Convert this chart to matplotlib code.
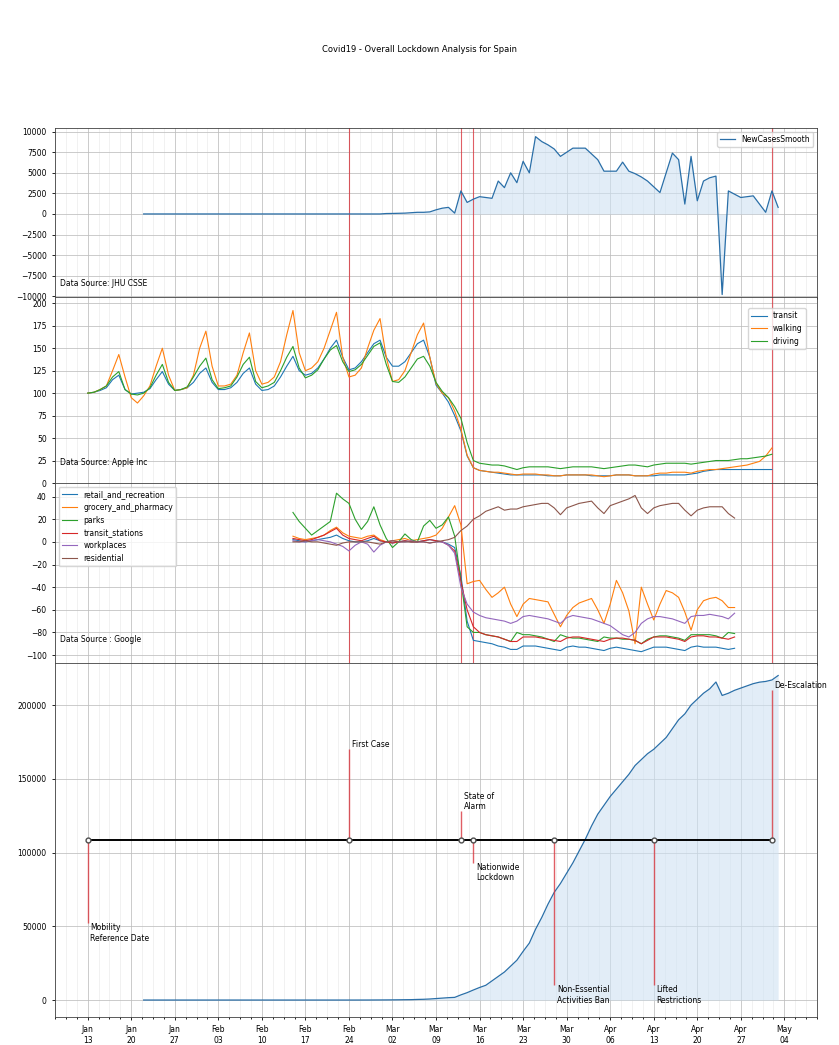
import matplotlib
matplotlib.use("Agg")
import matplotlib.pyplot as plt
import matplotlib.dates as mdates
from matplotlib.ticker import MultipleLocator, AutoMinorLocator
import pandas as pd
import numpy as np

# ---------------- data ----------------
title = "Covid19 - Overall Lockdown Analysis for Spain"

# JHU CSSE - smoothed daily new cases (from 2020-01-22)
jhu_start = "2020-01-22"
new_cases = [0] * 39 + [
    50, 60, 80, 100, 150, 200, 200, 250, 500, 700,
    800, 100, 2800, 1400, 1800, 2100, 2000, 1900, 4000, 3200,
    5000, 3800, 6400, 5000, 9400, 8800, 8400, 7900, 7000, 7500,
    8000, 8000, 8000, 7300, 6600, 5200, 5200, 5200, 6300, 5200,
    4900, 4500, 4000, 3300, 2600, 5000, 7400, 6600, 1200, 7000,
    1600, 4000, 4400, 4600, -9800, 2800, 2400, 2000, 2100, 2200,
    1200, 200, 2800, 800]

# JHU CSSE - cumulative confirmed cases (from 2020-01-22)
confirmed = [0] * 35 + [
    10, 20, 40, 60, 85, 120, 165, 220, 260, 400,
    500, 700, 1000, 1300, 1600, 1800, 3500, 5000, 6800, 8500,
    10000, 13000, 16000, 19000, 23000, 27000, 33000, 38600, 48000, 56000,
    65000, 73000, 79000, 86000, 93000, 101000, 109000, 118000, 126000, 132000,
    138000, 143000, 148000, 153000, 159000, 163000, 167000, 170000, 174000, 178000,
    184000, 190000, 194000, 200000, 204000, 208000, 211000, 215600, 206500, 208000,
    210000, 211500, 213000, 214500, 215500, 216000, 217000, 220000]

# Apple mobility (from 2020-01-13)
apple_start = "2020-01-13"
transit = [100, 101, 103, 106, 115, 120, 104,
           99, 100, 101, 105, 115, 124, 110,
           103, 104, 106, 112, 122, 128, 112,
           104, 104, 106, 112, 122, 128, 110,
           103, 104, 108, 118, 130, 141, 125,
           120, 122, 128, 138, 150, 159, 140,
           126, 128, 135, 145, 155, 159, 140,
           130, 130, 135, 145, 155, 159, 140,
           109, 100, 90, 75, 58, 30, 17,
           14, 13, 12, 11, 10, 9, 9, 9,
           9, 9, 9, 8, 8, 8, 9, 9,
           9, 9, 8, 8, 8, 8, 9, 9,
           9, 8, 8, 8, 8, 9, 9, 9,
           9, 9, 10, 11, 13, 14, 15, 15,
           15, 15, 15, 15, 15, 15, 15, 15]
walking = [100, 101, 104, 108, 125, 143, 118,
           95, 89, 97, 108, 130, 150, 120,
           103, 104, 106, 120, 150, 169, 130,
           108, 108, 110, 120, 145, 167, 125,
           110, 112, 118, 135, 165, 192, 145,
           125, 128, 135, 150, 170, 190, 140,
           118, 120, 128, 150, 170, 183, 140,
           113, 115, 125, 145, 165, 178, 140,
           111, 100, 95, 80, 60, 31, 17,
           14, 13, 12, 12, 11, 10, 9, 10,
           10, 10, 9, 9, 8, 8, 9, 9,
           9, 9, 9, 8, 7, 8, 9, 9,
           9, 8, 8, 8, 10, 11, 11, 12,
           12, 12, 11, 13, 14, 15, 15, 16,
           17, 18, 19, 20, 22, 24, 30, 39]
driving = [100, 101, 104, 108, 118, 124, 104,
           99, 98, 100, 106, 120, 132, 112,
           103, 104, 107, 118, 130, 139, 115,
           105, 106, 108, 118, 132, 140, 113,
           106, 108, 112, 125, 140, 152, 128,
           117, 120, 126, 138, 148, 153, 135,
           124, 126, 132, 142, 152, 156, 132,
           113, 112, 118, 128, 138, 141, 130,
           112, 102, 95, 85, 72, 45, 25,
           22, 21, 20, 20, 19, 17, 15, 17,
           18, 18, 18, 18, 17, 16, 17, 18,
           18, 18, 18, 17, 16, 17, 18, 19,
           20, 20, 19, 18, 20, 21, 22, 22,
           22, 22, 21, 22, 23, 24, 25, 25,
           25, 26, 27, 27, 28, 29, 30, 32]

# Google mobility (from 2020-02-15)
google_start = "2020-02-15"
retail_and_recreation = [2, 1, 0, 1, 2, 3, 4, 6, 3, 1, 0, 0, 1, 3, 1, 0, -1, 0, 1, 0, 0, 1, 2, 1, 0, -2, -5,
    -30, -70, -87, -88, -89, -90, -92, -93, -95, -95,
    -92, -92, -92, -93, -94, -95, -96, -93, -92, -93,
    -93, -94, -95, -96, -94, -93, -94, -95, -96, -97,
    -95, -93, -93, -93, -94, -95, -96, -93, -92, -93,
    -93, -93, -94, -95, -94]
grocery_and_pharmacy = [5, 3, 2, 3, 4, 6, 10, 13, 8, 5,
    4, 3, 5, 6, 2, 0, 1, 2, 3, 1,
    2, 3, 4, 6, 12, 22, 32, 15, -37, -35,
    -34, -42, -49, -45, -40, -55, -66, -55, -50, -51,
    -52, -53, -64, -75, -65, -58, -54, -52, -50, -60,
    -72, -55, -34, -45, -61, -90, -40, -55, -69, -55,
    -43, -45, -49, -62, -78, -60, -52, -50, -49, -52,
    -58, -58]
parks = [26, 18, 12, 6, 10, 14, 18, 43, 38, 34,
    20, 11, 18, 31, 15, 3, -5, 0, 7, 2,
    0, 14, 19, 12, 15, 22, 5, -34, -75, -80,
    -80, -82, -83, -84, -86, -88, -80, -82, -82, -83,
    -84, -86, -88, -82, -84, -85, -85, -86, -87, -88,
    -84, -85, -85, -86, -86, -87, -90, -86, -84, -83,
    -83, -84, -85, -87, -82, -82, -82, -82, -83, -85,
    -80, -81]
transit_stations = [3, 2, 1, 2, 4, 6, 9, 12, 6, 3, 2, 1, 3, 5, 1, 0, -1, 0, 1, 0, 0, 1, 2, 1, 0, -3, -8,
    -35, -60, -75, -80, -82, -83, -84, -86, -88, -88,
    -84, -84, -84, -85, -86, -87, -88, -85, -84, -84,
    -85, -86, -87, -88, -86, -85, -85, -86, -87, -90,
    -87, -84, -84, -84, -85, -86, -88, -84, -83, -83,
    -84, -84, -85, -86, -84]
workplaces = [1, 0, 0, 1, 2, 1, 0, -2, -4, -8, -3, 0, -2, -9, -3, 0, 1, 0, 0, 1, 0, 0, -1, 0, 0, -3, -10,
    -40, -55, -62, -65, -67, -68, -69, -70, -72, -70,
    -66, -65, -66, -67, -68, -70, -72, -67, -65, -66,
    -67, -68, -70, -72, -74, -78, -82, -84, -80, -72,
    -68, -66, -66, -67, -68, -70, -72, -66, -65, -65,
    -64, -65, -66, -68, -63]
residential = [0, 0, 1, 0, 0, -1, -2, -3, -1, 0, 0, 0, 0, -1, -2, 0, 1, 0, 0, 0, 0, 0, -1, 0, 1, 2, 4,
    10, 14, 20, 23, 27, 29, 31, 28, 29, 29,
    31, 32, 33, 34, 34, 30, 24, 30, 32, 34,
    35, 36, 30, 25, 32, 34, 36, 38, 41, 30,
    25, 30, 32, 33, 34, 34, 28, 23, 28, 30,
    31, 31, 31, 25, 21]

# Timeline events
event_names = ["Mobility\nReference Date", "First Case", "State of\nAlarm",
               "Nationwide\nLockdown", "Non-Essential\nActivities Ban",
               "Lifted\nRestrictions", "De-Escalation"]
event_dates = ["2020-01-13", "2020-02-24", "2020-03-13", "2020-03-15",
               "2020-03-28", "2020-04-13", "2020-05-02"]
event_levels = [52000, 170000, 128000, 93000, 10000, 10000, 210000]
timeline_level = 108500
marked_events = ["First Case", "State of\nAlarm", "Nationwide\nLockdown", "De-Escalation"]

source_texts = ["Data Source: JHU CSSE", "Data Source: Apple Inc", "Data Source : Google"]

# ---------------- figure ----------------
FS = 5.5
plt.rcParams['font.family'] = ['DejaVu Sans']
fig = plt.figure(figsize=(8.39, 10.45), dpi=100)
gs = fig.add_gridspec(4, 1, height_ratios=[169, 186, 180, 354], hspace=0,
                      left=0.0656, right=0.9738, top=0.8775, bottom=0.0268)
axes = gs.subplots(sharex=True)
ax1, ax2, ax3, ax4 = axes
fig.suptitle(title, y=0.957, fontsize=6)

jhu_dates = pd.date_range(jhu_start, periods=len(new_cases), freq="D")
cum_dates = pd.date_range(jhu_start, periods=len(confirmed), freq="D")
apple_dates = pd.date_range(apple_start, periods=len(transit), freq="D")
google_dates = pd.date_range(google_start, periods=len(parks), freq="D")
ev_dates = pd.to_datetime(event_dates)

line_blue = "#2a6fa8"
fill_blue = "#cfe2f3"
event_red = "#d9363e"

# Panel 1
ax1.plot(jhu_dates, new_cases, color=line_blue, lw=0.9, label="NewCasesSmooth")
ax1.fill_between(jhu_dates, new_cases, 0, color=fill_blue, alpha=0.6, lw=0)
ax1.set_ylim(-10100, 10450)
ax1.yaxis.set_major_locator(MultipleLocator(2500))
ax1.legend(loc="upper right", fontsize=FS, frameon=True, framealpha=0.8)

# Panel 2
ax2.plot(apple_dates, transit, color="tab:blue", lw=0.8, label="transit")
ax2.plot(apple_dates, walking, color="tab:orange", lw=0.8, label="walking")
ax2.plot(apple_dates, driving, color="tab:green", lw=0.8, label="driving")
ax2.set_ylim(0, 207)
ax2.yaxis.set_major_locator(MultipleLocator(25))
ax2.legend(loc="upper right", fontsize=FS, bbox_to_anchor=(0.99, 0.96), framealpha=0.8)

# Panel 3
gcols = ["tab:blue", "tab:orange", "tab:green", "tab:red", "tab:purple", "tab:brown"]
gnames = ["retail_and_recreation", "grocery_and_pharmacy", "parks",
          "transit_stations", "workplaces", "residential"]
gvals = [retail_and_recreation, grocery_and_pharmacy, parks,
         transit_stations, workplaces, residential]
for n, v, c in zip(gnames, gvals, gcols):
    ax3.plot(google_dates, v, color=c, lw=0.8, label=n)
ax3.set_ylim(-107, 52)
ax3.yaxis.set_major_locator(MultipleLocator(20))
ax3.legend(loc="upper left", fontsize=FS, framealpha=0.8)

# Panel 4 - timeline
ax4.plot(cum_dates, confirmed, color=line_blue, lw=0.9)
ax4.fill_between(cum_dates, confirmed, 0, color=fill_blue, alpha=0.6, lw=0)
ax4.vlines(ev_dates, timeline_level, event_levels, color=event_red, lw=1.0, alpha=0.8)
ax4.plot(ev_dates, [timeline_level] * len(ev_dates), "-o", color="k", lw=1.4,
         markersize=3.5, markerfacecolor="w", markeredgecolor="0.3", zorder=5)
for d, lvl, name in zip(ev_dates, event_levels, event_names):
    ax4.annotate(name, xy=(d, lvl), xytext=(2, 0), textcoords="offset points",
                 ha="left", va="bottom" if lvl > timeline_level else "top",
                 fontsize=FS)
ax4.set_ylim(-11500, 228500)
ax4.yaxis.set_major_locator(MultipleLocator(50000))

# event markers on the upper panels
for ax in (ax1, ax2, ax3):
    for d, name in zip(ev_dates, event_names):
        if name in marked_events:
            ax.axvline(d, color=event_red, lw=0.8, alpha=0.8, zorder=1.5)

for ax, txt, ty in zip((ax1, ax2, ax3), source_texts, (0.08, 0.11, 0.13)):
    ax.text(0.006, ty, txt, transform=ax.transAxes, fontsize=FS, va="center")

# common axis styling
ax4.set_xlim(pd.Timestamp("2020-01-07 18:00"), pd.Timestamp("2020-05-09 06:00"))
ax4.xaxis.set_major_locator(mdates.WeekdayLocator(byweekday=mdates.MO))
ax4.xaxis.set_major_formatter(mdates.DateFormatter("%b\n%d"))
for ax in axes:
    ax.xaxis.set_minor_locator(AutoMinorLocator(4))
    ax.grid(which="major", color="0.74", lw=0.55)
    ax.grid(which="minor", axis="x", color="0.9", lw=0.4)
    ax.set_axisbelow(True)
    ax.tick_params(axis="both", which="major", labelsize=FS, length=2.5, width=0.6)
    ax.tick_params(axis="both", which="minor", length=1.5, width=0.6)
    for s in ax.spines.values():
        s.set_linewidth(0.6)
        s.set_color("0.25")

fig.savefig("out.png", dpi=100)
